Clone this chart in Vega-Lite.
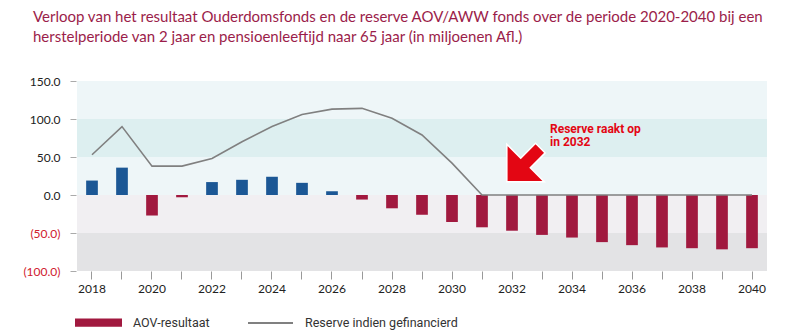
{
  "$schema": "https://vega.github.io/schema/vega-lite/v6.json",
  "autosize": "none",
  "width": 690,
  "height": 190,
  "padding": {"left": 77, "top": 81, "right": 25, "bottom": 64},
  "background": "white",
  "config": {"view": {"stroke": null}},
  "title": {
    "text": ["Verloop van het resultaat Ouderdomsfonds en de reserve AOV/AWW fonds over de periode 2020-2040 bij een", "herstelperiode van 2 jaar en pensioenleeftijd naar 65 jaar (in miljoenen Afl.)"],
    "anchor": "start",
    "frame": "group",
    "dx": -44,
    "offset": 30,
    "font": "Lato",
    "fontSize": 15,
    "fontWeight": "normal",
    "color": "#9b1d4a",
    "lineHeight": 20
  },
  "datasets": {
    "bands": [
      {"zone": "z1", "lo": 100, "hi": 150},
      {"zone": "z2", "lo": 50, "hi": 100},
      {"zone": "z3", "lo": 0, "hi": 50},
      {"zone": "z4", "lo": -50, "hi": 0},
      {"zone": "z5", "lo": -100, "hi": -50}
    ],
    "main": [
      {"year": 2018, "aov": 19, "reserve": 53},
      {"year": 2019, "aov": 36, "reserve": 90},
      {"year": 2020, "aov": -27, "reserve": 38},
      {"year": 2021, "aov": -3, "reserve": 38},
      {"year": 2022, "aov": 17, "reserve": 48},
      {"year": 2023, "aov": 20, "reserve": 70},
      {"year": 2024, "aov": 24, "reserve": 90},
      {"year": 2025, "aov": 16, "reserve": 106},
      {"year": 2026, "aov": 5, "reserve": 113},
      {"year": 2027, "aov": -6, "reserve": 114},
      {"year": 2028, "aov": -17.5, "reserve": 101},
      {"year": 2029, "aov": -26, "reserve": 79},
      {"year": 2030, "aov": -35.5, "reserve": 42},
      {"year": 2031, "aov": -42.5, "reserve": 0},
      {"year": 2032, "aov": -47, "reserve": 0},
      {"year": 2033, "aov": -52.5, "reserve": 0},
      {"year": 2034, "aov": -56, "reserve": 0},
      {"year": 2035, "aov": -62, "reserve": 0},
      {"year": 2036, "aov": -66, "reserve": 0},
      {"year": 2037, "aov": -69, "reserve": 0},
      {"year": 2038, "aov": -70, "reserve": 0},
      {"year": 2039, "aov": -71.5, "reserve": 0},
      {"year": 2040, "aov": -70, "reserve": 0}
    ],
    "note": [{"label": "Reserve raakt op\nin 2032"}]
  },
  "layer": [
    {
      "data": {"name": "bands"},
      "mark": {"type": "rect"},
      "encoding": {
        "y": {
          "field": "lo", "type": "quantitative",
          "scale": {"domain": [-100, 150], "nice": false, "zero": false},
          "axis": {
            "title": null, "domain": false, "grid": false,
            "values": [-100, -50, 0, 50, 100, 150], "tickCount": 6,
            "labelOverlap": false, "labelFlush": false, "labelBound": false,
            "ticks": true, "tickColor": "#aaaaaa", "tickSize": 6, "offset": 1,
            "labelPadding": 10,
            "labelExpr": "datum.value < 0 ? '(' + format(-datum.value, '.1f') + ')' : format(datum.value, '.1f')",
            "labelFont": "Lato", "labelFontSize": 12,
            "labelColor": {"condition": {"test": "datum.value < 0", "value": "#d0202e"}, "value": "#222222"}
          }
        },
        "y2": {"field": "hi"},
        "fill": {
          "field": "zone", "type": "nominal", "legend": null,
          "scale": {"domain": ["z1", "z2", "z3", "z4", "z5"], "range": ["#eef6f8", "#ddeff0", "#eef6f8", "#f1eff2", "#e3e3e5"]}
        }
      }
    },
    {
      "data": {"name": "main"},
      "mark": {"type": "bar"},
      "encoding": {
        "x": {
          "field": "year", "type": "ordinal",
          "scale": {"paddingInner": 0.61, "paddingOuter": 0.305},
          "axis": {
            "title": null, "domain": false, "grid": false,
            "ticks": true, "tickColor": "#999999", "tickSize": 8, "tickWidth": 1,
            "labelAngle": 0, "labelPadding": 4,
            "labelExpr": "datum.value % 2 == 0 ? datum.label : ''",
            "labelFont": "Lato", "labelFontSize": 12, "labelColor": "#222222"
          }
        },
        "y": {
          "field": "aov", "type": "quantitative",
          "axis": {
            "title": null, "domain": false, "grid": false,
            "values": [-100, -50, 0, 50, 100, 150], "tickCount": 6,
            "labelOverlap": false, "labelFlush": false, "labelBound": false,
            "ticks": true, "tickColor": "#aaaaaa", "tickSize": 6, "offset": 1,
            "labelPadding": 10,
            "labelExpr": "datum.value < 0 ? '(' + format(-datum.value, '.1f') + ')' : format(datum.value, '.1f')",
            "labelFont": "Lato", "labelFontSize": 12,
            "labelColor": {"condition": {"test": "datum.value < 0", "value": "#d0202e"}, "value": "#222222"}
          }
        },
        "color": {
          "condition": {"test": "datum.aov > 0", "value": "#1b5795"},
          "datum": "AOV-resultaat",
          "scale": {"domain": ["AOV-resultaat", "Reserve indien gefinancierd"], "range": ["#a1193f", "#808080"]},
          "legend": {
            "title": null,
            "orient": "none",
            "legendX": -2,
            "legendY": 218,
            "direction": "horizontal",
            "symbolSize": 2025,
            "symbolStrokeWidth": 2,
            "labelOffset": 11,
            "columnPadding": 34,
            "labelFont": "Roboto",
            "labelFontSize": 12.5,
            "labelColor": "#333333",
            "encode": {
              "symbols": {
                "update": {
                  "shape": {"signal": "datum.value === 'AOV-resultaat' ? 'M-1,-0.14H1V0.14H-1Z' : 'stroke'"},
                  "fill": {"signal": "datum.value === 'AOV-resultaat' ? '#a1193f' : 'transparent'"},
                  "stroke": {"signal": "datum.value === 'AOV-resultaat' ? 'transparent' : '#808080'"},
                  "strokeWidth": {"value": 2},
                  "opacity": {"value": 1}
                }
              }
            }
          }
        }
      }
    },
    {
      "data": {"name": "main"},
      "mark": {"type": "line", "strokeWidth": 1.6},
      "encoding": {
        "x": {"field": "year", "type": "ordinal"},
        "y": {
          "field": "reserve", "type": "quantitative",
          "axis": {
            "title": null, "domain": false, "grid": false,
            "values": [-100, -50, 0, 50, 100, 150], "tickCount": 6,
            "labelOverlap": false, "labelFlush": false, "labelBound": false,
            "ticks": true, "tickColor": "#aaaaaa", "tickSize": 6, "offset": 1,
            "labelPadding": 10,
            "labelExpr": "datum.value < 0 ? '(' + format(-datum.value, '.1f') + ')' : format(datum.value, '.1f')",
            "labelFont": "Lato", "labelFontSize": 12,
            "labelColor": {"condition": {"test": "datum.value < 0", "value": "#d0202e"}, "value": "#222222"}
          }
        },
        "color": {"datum": "Reserve indien gefinancierd"}
      }
    },
    {
      "data": {"name": "note"},
      "mark": {
        "type": "point",
        "shape": "M-1,1L-1,-0.95L-0.275,-0.225L0.5,-1L1,-0.5L0.225,0.275L0.95,1Z",
        "filled": true,
        "fill": "#e30613",
        "stroke": "white",
        "strokeWidth": 1.5,
        "size": 1470,
        "opacity": 1,
        "xOffset": 14
      },
      "encoding": {
        "x": {"datum": 2032, "type": "ordinal"},
        "y": {
          "datum": 42.8, "type": "quantitative",
          "axis": {
            "title": null, "domain": false, "grid": false,
            "values": [-100, -50, 0, 50, 100, 150], "tickCount": 6,
            "labelOverlap": false, "labelFlush": false, "labelBound": false,
            "ticks": true, "tickColor": "#aaaaaa", "tickSize": 6, "offset": 1,
            "labelPadding": 10,
            "labelExpr": "datum.value < 0 ? '(' + format(-datum.value, '.1f') + ')' : format(datum.value, '.1f')",
            "labelFont": "Lato", "labelFontSize": 12,
            "labelColor": {"condition": {"test": "datum.value < 0", "value": "#d0202e"}, "value": "#222222"}
          }
        }
      }
    },
    {
      "data": {"name": "note"},
      "mark": {
        "type": "text",
        "align": "left",
        "baseline": "top",
        "lineBreak": "\n",
        "lineHeight": 13.5,
        "xOffset": 38,
        "font": "Roboto",
        "fontWeight": "bold",
        "fontSize": 12,
        "color": "#e30613"
      },
      "encoding": {
        "x": {"datum": 2032, "type": "ordinal"},
        "y": {
          "datum": 94, "type": "quantitative",
          "axis": {
            "title": null, "domain": false, "grid": false,
            "values": [-100, -50, 0, 50, 100, 150], "tickCount": 6,
            "labelOverlap": false, "labelFlush": false, "labelBound": false,
            "ticks": true, "tickColor": "#aaaaaa", "tickSize": 6, "offset": 1,
            "labelPadding": 10,
            "labelExpr": "datum.value < 0 ? '(' + format(-datum.value, '.1f') + ')' : format(datum.value, '.1f')",
            "labelFont": "Lato", "labelFontSize": 12,
            "labelColor": {"condition": {"test": "datum.value < 0", "value": "#d0202e"}, "value": "#222222"}
          }
        },
        "text": {"field": "label"}
      }
    }
  ]
}
